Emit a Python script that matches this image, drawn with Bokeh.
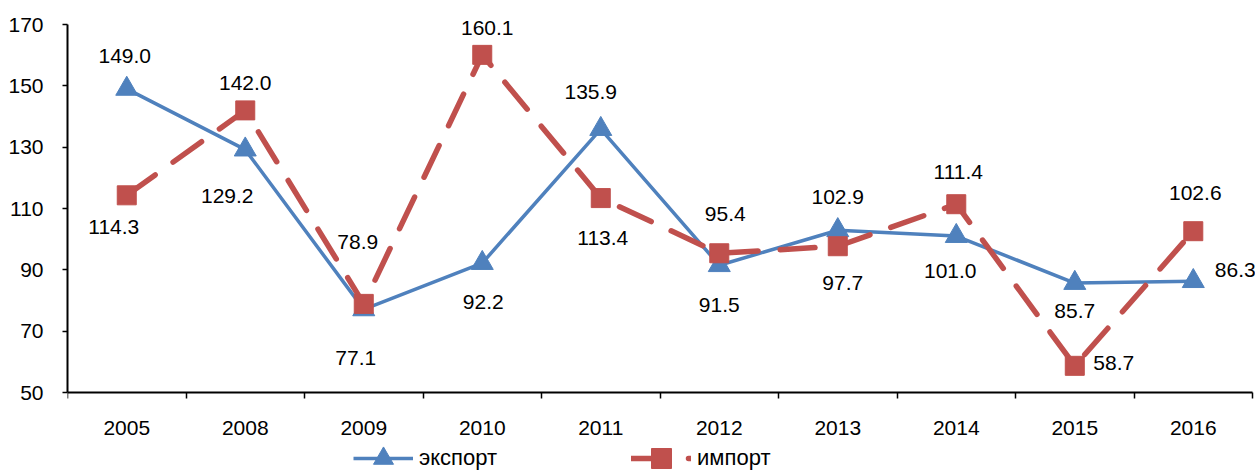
from bokeh.plotting import figure
from bokeh.models import Range1d, FixedTicker, Legend, LegendItem
from bokeh.core.properties import value
from bokeh.embed import file_html
from bokeh.resources import INLINE

# ---- data ----
years = ["2005", "2008", "2009", "2010", "2011", "2012", "2013", "2014", "2015", "2016"]
export_vals = [149.0, 129.2, 77.1, 92.2, 135.9, 91.5, 102.9, 101.0, 85.7, 86.3]
import_vals = [114.3, 142.0, 78.9, 160.1, 113.4, 95.4, 97.7, 111.4, 58.7, 102.6]
y_ticks = [50, 70, 90, 110, 130, 150, 170]
series_names = ["экспорт", "импорт"]

# ---- label placement (screen px offsets from point) ----
export_dx = [-2, -18, -8, 1, -10, 0, 0, -6, 0, 42]
export_dy = [-33, 46, 49, 39, -37, 40, -33, 35, 28, -11]
import_dx = [-13, 0, -6, 5, 2, 6, 5, 2, 39, 2]
import_dy = [32, -27, -62, -27, 40, -39, 37, -32, -3, -38]

BLUE = "#4F81BD"
RED = "#C0504D"
FONT = "Liberation Sans"
FS = "21px"

xs = list(range(1, len(years) + 1))

p = figure(width=1255, height=471, output_backend="svg", toolbar_location=None,
           x_range=Range1d(0.5, 10.525), y_range=Range1d(24.24, 177.83),
           min_border_left=67, min_border_right=0, min_border_top=0, min_border_bottom=0)
p.outline_line_color = None
p.grid.visible = False
p.background_fill_color = "white"

# x axis (drawn at y = 50 inside the frame)
xa = p.xaxis[0]
xa.fixed_location = 50
xa.ticker = FixedTicker(ticks=xs, minor_ticks=[x - 0.5 for x in xs] + [xs[-1] + 0.5])
xa.major_label_overrides = {x: y for x, y in zip(xs, years)}
xa.bounds = (0.5, 10.5)
xa.major_tick_out = 0
xa.major_tick_in = 0
xa.minor_tick_out = 6
xa.minor_tick_in = 0
xa.minor_tick_line_color = "black"
xa.minor_tick_line_width = 1.5
xa.axis_line_color = "black"
xa.axis_line_width = 2
xa.major_label_standoff = 22
xa.major_label_text_font = FONT
xa.major_label_text_font_size = FS
xa.major_label_text_color = "black"

# y axis
ya = p.yaxis[0]
ya.ticker = FixedTicker(ticks=y_ticks, minor_ticks=[])
ya.bounds = (50, 170)
ya.major_tick_out = 5
ya.major_tick_in = 0
ya.major_tick_line_color = "black"
ya.major_tick_line_width = 1.5
ya.minor_tick_line_color = None
ya.axis_line_color = "black"
ya.axis_line_width = 2
ya.major_label_standoff = 19
ya.major_label_text_font = FONT
ya.major_label_text_font_size = FS
ya.major_label_text_color = "black"

# series
exp_line = p.line(xs, export_vals, line_color=BLUE, line_width=3.5)
exp_mark = p.scatter(xs, export_vals, marker="triangle", size=22,
                     fill_color=BLUE, line_color=BLUE)
imp_line = p.line(xs, import_vals, line_color=RED, line_width=5.5,
                  line_dash="35 22", line_cap="round")
imp_mark = p.scatter(xs, import_vals, marker="square", size=19,
                     fill_color=RED, line_color=RED)

p.text(xs, export_vals, text=[f"{v:.1f}" for v in export_vals],
       x_offset=export_dx, y_offset=export_dy,
       text_align="center", text_baseline="middle",
       text_font=value(FONT), text_font_size=FS, text_color="black")
p.text(xs, import_vals, text=[f"{v:.1f}" for v in import_vals],
       x_offset=import_dx, y_offset=import_dy,
       text_align="center", text_baseline="middle",
       text_font=value(FONT), text_font_size=FS, text_color="black")

legend = Legend(items=[LegendItem(label=series_names[0], renderers=[exp_line, exp_mark]),
                       LegendItem(label=series_names[1], renderers=[imp_line, imp_mark])],
                location=(286, -12), orientation="horizontal",
                glyph_width=60, glyph_height=50, label_standoff=6, spacing=134,
                padding=0, margin=0, border_line_color=None,
                background_fill_alpha=0,
                label_text_font=FONT, label_text_font_size="22px", label_text_color="black")
p.add_layout(legend)

open("out.html", "w").write(file_html(p, INLINE))
